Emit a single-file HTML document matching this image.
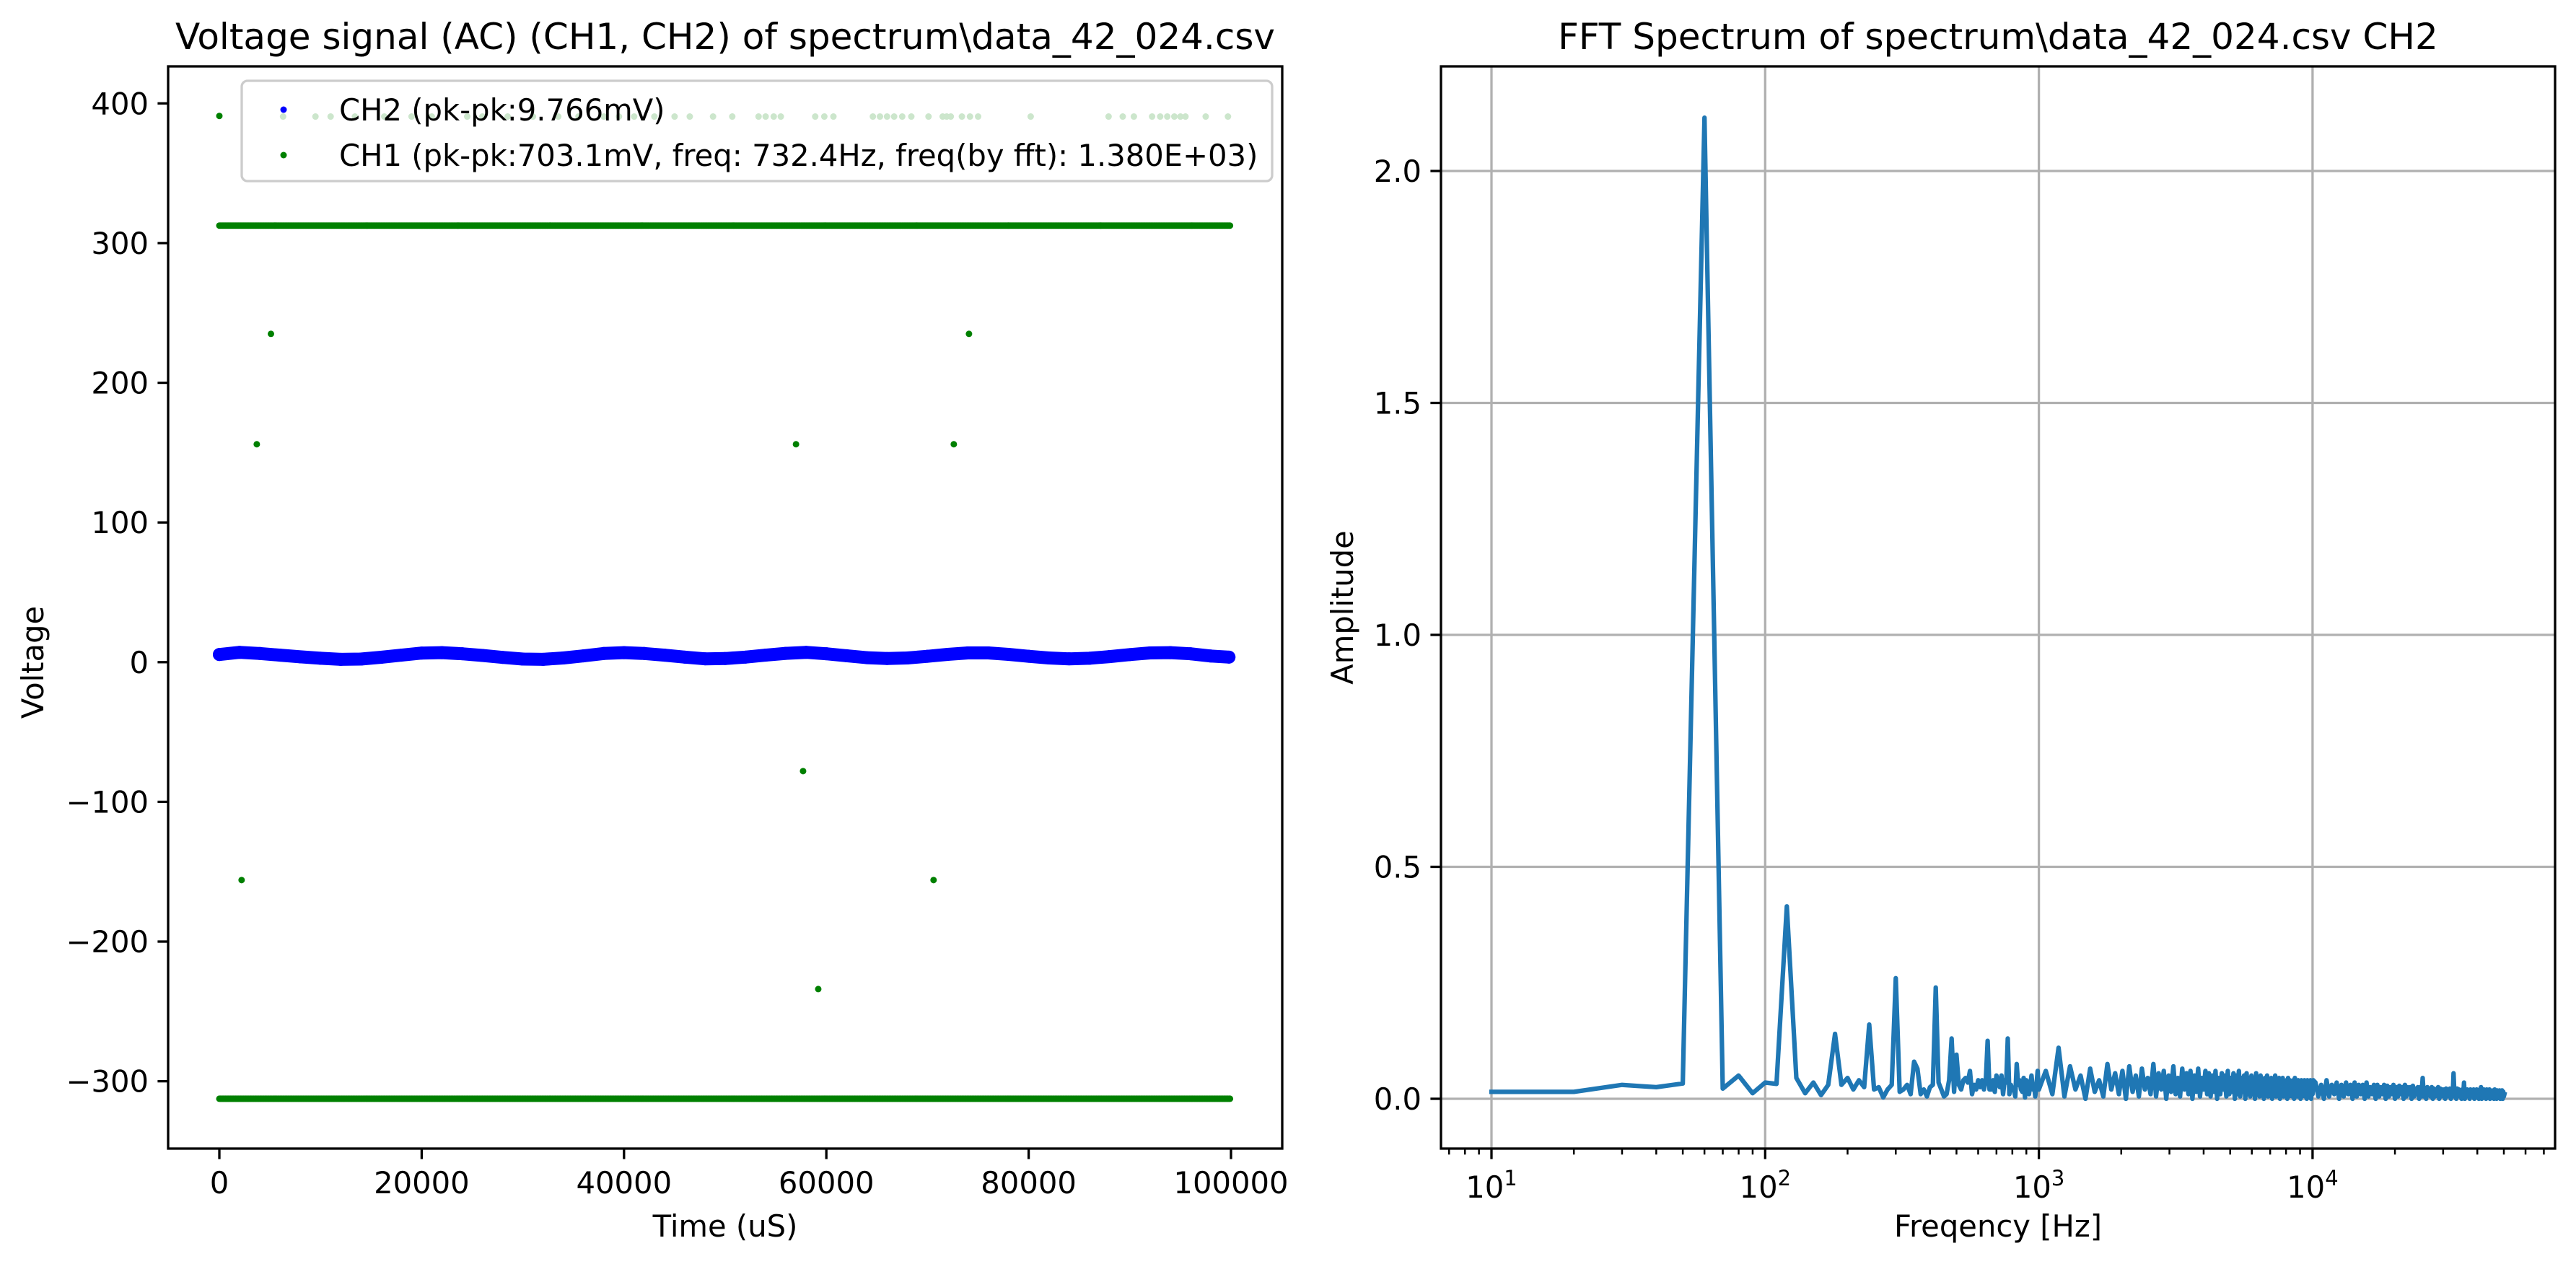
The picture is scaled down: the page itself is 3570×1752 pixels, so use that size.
<!DOCTYPE html>
<html><head><meta charset="utf-8"><style>
html,body{margin:0;padding:0;background:#fff}
svg{display:block;font-family:"DejaVu Sans","Liberation Sans",sans-serif}
</style></head><body>
<svg id="fig" width="3570" height="1752" viewBox="0 0 3570 1752" xmlns="http://www.w3.org/2000/svg">
<rect x="0" y="0" width="3570" height="1752" fill="#fff"/>
<g id="left"></g>
<g id="right"></g>
</svg>
<script>
// ---------- Left chart data ----------
const leftXTicks = [0, 20000, 40000, 60000, 80000, 100000];
const leftYTicks = [-300, -200, -100, 0, 100, 200, 300, 400];
const ch2Times = [0,2000,4000,6000,8000,10000,12000,14000,16000,18000,20000,22000,24000,26000,28000,30000,32000,34000,36000,38000,40000,42000,44000,46000,48000,50000,52000,54000,56000,58000,60000,62000,64000,66000,68000,70000,72000,74000,76000,78000,80000,82000,84000,86000,88000,90000,92000,94000,96000,98000,99800];
const ch2Values = [5.5,7.0,6.2,5.0,3.8,2.8,2.0,2.2,3.5,5.0,6.5,6.8,6.0,4.8,3.4,2.2,2.0,3.0,4.5,6.2,6.8,6.2,5.0,3.6,2.4,2.6,3.6,5.0,6.3,7.0,6.0,4.6,3.2,2.6,3.0,4.2,5.6,6.6,6.6,5.6,4.2,3.0,2.4,2.8,4.0,5.4,6.6,6.8,6.0,4.4,3.6];
const ch1Levels = [312.5, -312.5];
const ch1GridStart = [0];
const ch1GridEnd = [99900];
const ch1GridStep = [100];
const ch1OutlierTimes = [0, 5100, 3700, 57000, 72600, 74100, 2200, 57700, 59200, 70600];
const ch1OutlierValues = [391, 235, 156, 156, 156, 235, -156, -78, -234, -156];
const ch1FaintTimes = [6300,9500,11000,13400,16300,19000,21000,24500,26000,28500,31000,33500,35500,38000,39500,41000,43000,45000,46500,48800,50700,53300,54000,54800,55500,58900,59800,60700,64600,65300,66000,66700,67500,68400,70100,71500,71900,72300,73400,74200,75000,80200,87900,89300,90400,92200,93000,93700,94400,95000,95500,97500,99700];
const ch1FaintValue = [390.6];

// ---------- Right chart data ----------
const fftYTicks = [0.0, 0.5, 1.0, 1.5, 2.0];
const fftXDecades = [1, 2, 3, 4];
const ampLowStart = [10], ampLowStep = [10];
const ampLow = [.015,.015,.03,.025,.033,2.115,.022,.05,.012,.035,
.032,.415,.045,.012,.035,.008,.03,.14,.03,.045,
.02,.04,.025,.16,.02,.025,.003,.02,.03,.26,
.015,.02,.03,.01,.08,.065,.01,.02,.005,.025,
.03,.24,.035,.02,.005,.01,.04,.13,.015,.095,
.03,.02,.04,.045,.035,.06,.01,.03,.02,.04,
.025,.04,.02,.04,.125,.02,.02,.04,.015,.05,
.035,.025,.05,.01,.04,.035,.13,.01,.03,.02,
.02,.005,.075,.03,.04,.02,.015,.045,.003,.04,
.035,.01,.03,.05,.02,.03,.005,.03,.06,.02];
const ampMidStart = [1060], ampMidStep = [60];
const ampMid = [.06,.01,.11,.005,.07,.02,.05,.0,.065,.015,
.04,.005,.075,.02,.055,.01,.06,.0,.07,.015,
.05,.005,.065,.02,.045,.01,.075,.005,.055,.02,
.06,.0,.05,.015,.07,.01,.045,.005,.065,.02,
.055,.01,.06,.0,.05,.015,.065,.005,.045,.02,
.06,.01,.055,.005,.05,.015,.06,.0,.045,.01,
.055,.02,.05,.005,.06,.01,.045,.015,.055,.0,
.05,.01,.06,.005,.045,.015,.05,.0,.055,.01,
.045,.005,.05,.015,.04,.0,.055,.01,.045,.005,
.05,.015,.04,.0,.045,.01,.05,.005,.04,.015,
.045,.0,.04,.01,.05,.005,.04,.01,.045,.0,
.04,.01,.045,.005,.035,.01,.04,.0,.045,.005,
.04,.01,.035,.005,.04,.0,.045,.01,.035,.005,
.04,.01,.035,.0,.04,.005,.035,.01,.04,.005,
.035,.0,.04,.01,.035,.005,.04,.0,.035,.01,
.04];
const ampHighStart = [10250], ampHighStep = [250];
const ampHigh = [.035,.005,.03,.0,.04,.005,.03,.01,.035,.0,
.03,.005,.035,.01,.03,.0,.035,.005,.03,.01,
.03,.0,.035,.005,.025,.01,.03,.0,.03,.005,
.025,.01,.03,.0,.028,.005,.025,.01,.03,.0,
.025,.005,.028,.01,.025,.0,.03,.005,.025,.01,
.025,.0,.028,.005,.022,.01,.025,.0,.025,.005,
.045,.005,.022,.0,.025,.01,.02,.005,.025,.0,
.022,.005,.02,.01,.025,.0,.022,.005,.02,.01,
.02,.0,.022,.005,.02,.01,.022,.0,.02,.005,
.055,.005,.02,.0,.022,.01,.02,.005,.018,.0,
.02,.005,.035,.0,.018,.01,.02,.005,.018,.0,
.02,.005,.018,.01,.02,.0,.018,.005,.02,.01,
.018,.0,.02,.005,.025,.0,.018,.01,.02,.005,
.018,.0,.02,.005,.018,.01,.02,.0,.018,.005,
.015,.01,.018,.0,.02,.005,.015,.0,.018,.005,
.015,.01,.018,.0,.015,.005,.018,.0,.015,.005,
.01];

const NS = "http://www.w3.org/2000/svg";
function mk(tag, attrs, parent) {
  const e = document.createElementNS(NS, tag);
  for (const k in attrs) e.setAttribute(k, attrs[k]);
  parent.appendChild(e);
  return e;
}
const FS = 41.7;

// ---------- Left chart ----------
const L = document.getElementById('left');
const lx0 = 233, lx1 = 1777, ly0 = 92, ly1 = 1592;
const lxMin = -5064, lxMax = 105064, lyMin = -348.2, lyMax = 426.5;
const lX = v => lx0 + (v - lxMin) / (lxMax - lxMin) * (lx1 - lx0);
const lY = v => ly1 - (v - lyMin) / (lyMax - lyMin) * (ly1 - ly0);

const title1 = mk('text', {x: 1005, y: 68, 'font-size': 50, 'text-anchor': 'middle'}, L);
title1.textContent = 'Voltage signal (AC) (CH1, CH2) of spectrum\\data_42_024.csv';



const ch1G = mk('g', {fill: 'green'}, L);


for (const lev of ch1Levels) {
  for (let t = ch1GridStart[0]; t <= ch1GridEnd[0]; t += ch1GridStep[0]) {
    const c = mk('circle', {cx: lX(t).toFixed(1), cy: lY(lev).toFixed(1), r: 4.5}, ch1G);
    
    
  }
}
ch1OutlierTimes.forEach((t, i) => {
  const c = mk('circle', {cx: lX(t), cy: lY(ch1OutlierValues[i]), r: 4.5}, ch1G);
  
  
});
ch1FaintTimes.forEach(t => {
  const c = mk('circle', {cx: lX(t), cy: lY(ch1FaintValue[0]), r: 4.5}, ch1G);
  
  
});

const ch2G = mk('g', {}, L);


const ch2Pts = ch2Times.map((t, i) => lX(t).toFixed(1) + ',' + lY(ch2Values[i]).toFixed(1)).join(' ');
const ch2Line = mk('polyline', {points: ch2Pts, fill: 'none', stroke: 'blue', 'stroke-width': 18, 'stroke-linejoin': 'round', 'stroke-linecap': 'round'}, ch2G);


ch2Times.forEach((t, i) => {
  const c = mk('circle', {cx: lX(t), cy: lY(ch2Values[i]), r: 9, fill: 'blue'}, ch2G);
  
  
});

// left axes
const lFrame = mk('rect', {x: lx0, y: ly0, width: lx1 - lx0, height: ly1 - ly0, fill: 'none', stroke: '#000', 'stroke-width': 3.3}, L);


leftXTicks.forEach(v => {
  const x = lX(v);
  const tk = mk('line', {x1: x, y1: ly1, x2: x, y2: ly1 + 14.6, stroke: '#000', 'stroke-width': 3.3}, L);
  
  
  const tl = mk('text', {x: x, y: 1654, 'font-size': FS, 'text-anchor': 'middle'}, L);
  tl.textContent = String(v);
  
  
});
leftYTicks.forEach(v => {
  const y = lY(v);
  const tk = mk('line', {x1: lx0 - 14.6, y1: y, x2: lx0, y2: y, stroke: '#000', 'stroke-width': 3.3}, L);
  
  
  const tl = mk('text', {x: lx0 - 27, y: y + 15, 'font-size': FS, 'text-anchor': 'end'}, L);
  tl.textContent = v < 0 ? '\u2212' + Math.abs(v) : String(v);
  
  
});
const xl1 = mk('text', {x: 1005, y: 1714, 'font-size': FS, 'text-anchor': 'middle'}, L);
xl1.textContent = 'Time (uS)';


const yl1 = mk('text', {x: 0, y: 0, 'font-size': FS, 'text-anchor': 'middle', transform: 'translate(60,918) rotate(-90)'}, L);
yl1.textContent = 'Voltage';



// legend
const lg = mk('g', {}, L);


mk('rect', {x: 335, y: 112, width: 1428, height: 139, rx: 8, fill: '#fff', 'fill-opacity': 0.8, stroke: '#cccccc', 'stroke-width': 3.3}, lg);
const e1 = mk('g', {}, lg);


mk('circle', {cx: 393, cy: 152, r: 4.5, fill: 'blue'}, e1);
const t1 = mk('text', {x: 470, y: 167, 'font-size': FS}, e1);
t1.textContent = 'CH2 (pk-pk:9.766mV)';
const e2 = mk('g', {}, lg);


mk('circle', {cx: 393, cy: 215, r: 4.5, fill: 'green'}, e2);
const t2 = mk('text', {x: 470, y: 230, 'font-size': FS}, e2);
t2.textContent = 'CH1 (pk-pk:703.1mV, freq: 732.4Hz, freq(by fft): 1.380E+03)';

// ---------- Right chart ----------
const R = document.getElementById('right');
const rx0 = 1997, rx1 = 3541, ry0 = 92, ry1 = 1592;
const dec = 379.3, x10 = 2067;
const rX = f => x10 + (Math.log10(f) - 1) * dec;
const ry0v = 1523, yPer = 643;
const rY = v => ry0v - v * yPer;

const title2 = mk('text', {x: 2769, y: 68, 'font-size': 50, 'text-anchor': 'middle'}, R);
title2.textContent = 'FFT Spectrum of spectrum\\data_42_024.csv CH2';



// grid
fftXDecades.forEach(d => {
  const x = rX(Math.pow(10, d));
  const g = mk('line', {x1: x, y1: ry0, x2: x, y2: ry1, stroke: '#b0b0b0', 'stroke-width': 3.3}, R);
  
  
});
fftYTicks.forEach(v => {
  const y = rY(v);
  const g = mk('line', {x1: rx0, y1: y, x2: rx1, y2: y, stroke: '#b0b0b0', 'stroke-width': 3.3}, R);
  
  
});

// spectrum line
const pts = [];
ampLow.forEach((a, i) => pts.push([ampLowStart[0] + i * ampLowStep[0], a]));
ampMid.forEach((a, i) => pts.push([ampMidStart[0] + i * ampMidStep[0], a]));
ampHigh.forEach((a, i) => pts.push([ampHighStart[0] + i * ampHighStep[0], a]));
const sp = mk('polyline', {points: pts.map(p => rX(p[0]).toFixed(1) + ',' + rY(p[1]).toFixed(1)).join(' '), fill: 'none', stroke: '#1f77b4', 'stroke-width': 6.25, 'stroke-linejoin': 'round', 'stroke-linecap': 'square'}, R);



// right axes
const rFrame = mk('rect', {x: rx0, y: ry0, width: rx1 - rx0, height: ry1 - ry0, fill: 'none', stroke: '#000', 'stroke-width': 3.3}, R);


for (let d = 0; d <= 4; d++) {
  for (let m = 2; m <= 9; m++) {
    const f = m * Math.pow(10, d);
    const x = rX(f);
    if (x < rx0 || x > rx1) continue;
    const tk = mk('line', {x1: x, y1: ry1, x2: x, y2: ry1 + 8.3, stroke: '#000', 'stroke-width': 2.5}, R);
    
    
  }
}
fftXDecades.forEach(d => {
  const x = rX(Math.pow(10, d));
  const tk = mk('line', {x1: x, y1: ry1, x2: x, y2: ry1 + 14.6, stroke: '#000', 'stroke-width': 3.3}, R);
  
  
  const tl = mk('text', {x: x, y: 1660, 'font-size': FS, 'text-anchor': 'middle'}, R);
  
  
  const a = mk('tspan', {}, tl); a.textContent = '10';
  const b = mk('tspan', {'font-size': 29, dy: -17}, tl); b.textContent = String(d);
});
fftYTicks.forEach(v => {
  const y = rY(v);
  const tk = mk('line', {x1: rx0 - 14.6, y1: y, x2: rx0, y2: y, stroke: '#000', 'stroke-width': 3.3}, R);
  
  
  const tl = mk('text', {x: rx0 - 27, y: y + 15, 'font-size': FS, 'text-anchor': 'end'}, R);
  tl.textContent = v.toFixed(1);
  
  
});
const xl2 = mk('text', {x: 2769, y: 1714, 'font-size': FS, 'text-anchor': 'middle'}, R);
xl2.textContent = 'Freqency [Hz]';


const yl2 = mk('text', {x: 0, y: 0, 'font-size': FS, 'text-anchor': 'middle', transform: 'translate(1875,842) rotate(-90)'}, R);
yl2.textContent = 'Amplitude';


</script>
</body></html>
